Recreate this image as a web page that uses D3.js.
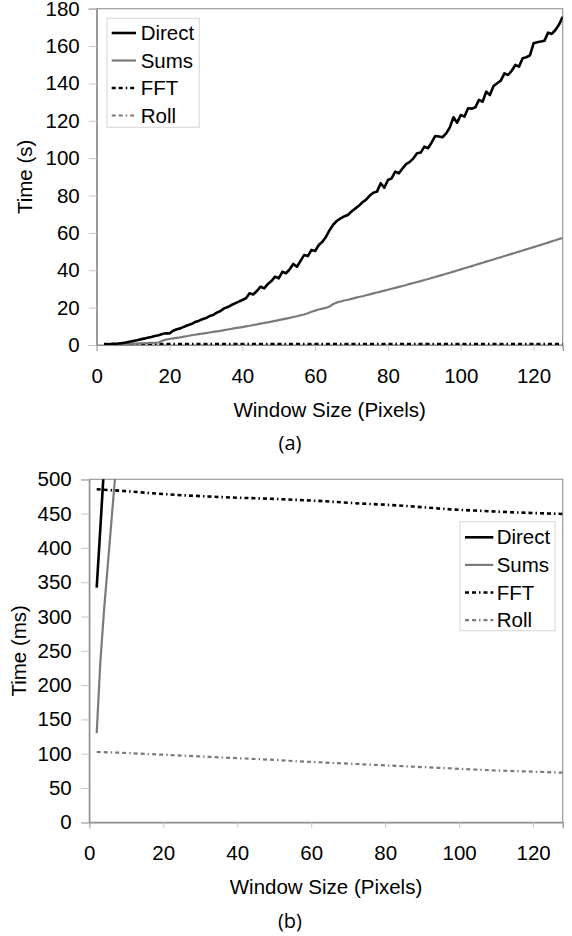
<!DOCTYPE html>
<html>
<head>
<meta charset="utf-8">
<script src="https://cdn.jsdelivr.net/npm/d3@7"></script>
<style>
  body { margin: 0; background: #fff; }
  svg { display: block; font-family: "Liberation Sans", Arial, sans-serif; }
</style>
</head>
<body>
<svg id="chart" width="572" height="936"></svg>
<script>
// window sizes (pixels) for Direct and Sums
const windowSizes = d3.range(2, 129);

// Direct, seconds, one value per window size 2..128
const directTimes = [
  0.342, 0.43, 0.52, 0.65, 0.8, 1.0, 1.3, 1.7, 2.1, 2.5, 3.0, 3.4, 3.9, 4.3, 4.8, 5.2, 5.9, 6.3, 6.2,
  7.6, 8.4, 8.9, 9.8, 10.6, 11.2, 12.3, 12.9, 13.8, 14.4, 15.5, 16.1, 17.3, 18.2, 19.6, 20.3, 21.4,
  22.3, 23.2, 24.1, 25.0, 27.7, 27.0, 28.9, 31.2, 30.3, 32.6, 34.2, 36.6, 35.7, 39.2, 38.4, 40.5,
  43.4, 41.9, 45.0, 48.2, 47.6, 50.9, 50.3, 53.5, 55.3, 58.0, 61.6, 64.5, 66.5, 67.8, 68.9, 69.6,
  71.5, 73.0, 74.5, 76.4, 77.8, 80.0, 81.5, 82.1, 86.6, 84.2, 88.3, 89.2, 92.8, 91.9, 94.5, 96.8,
  98.0, 99.9, 102.6, 103.0, 106.2, 105.3, 108.4, 111.9, 111.6, 111.2, 113.3, 116.5, 121.9, 119.0,
  123.1, 122.2, 126.7, 126.5, 127.2, 131.2, 130.2, 135.6, 133.8, 138.6, 140.1, 141.5, 145.4, 144.5,
  146.8, 149.9, 149.0, 153.5, 154.0, 155.0, 161.5, 162.0, 162.4, 162.9, 167.2, 166.5, 168.6, 171.5,
  175.7
];

// Sums, seconds, one value per window size 2..128
const sumsTimes = [
  0.13, 0.235, 0.31, 0.375, 0.44, 0.505, 0.57, 0.64, 0.71, 0.78, 0.86, 0.94, 1.02, 1.11, 1.2, 1.35,
  2.3, 2.9, 3.2, 3.5, 3.8, 4.1, 4.5, 4.8, 5.2, 5.5, 5.8, 6.1, 6.4, 6.7, 7.0, 7.3, 7.6, 8.0, 8.3, 8.6,
  9.0, 9.3, 9.6, 10.0, 10.3, 10.7, 11.0, 11.4, 11.8, 12.1, 12.5, 12.9, 13.3, 13.7, 14.1, 14.5, 15.0,
  15.4, 15.9, 16.3, 17.0, 17.8, 18.4, 19.0, 19.5, 19.9, 20.6, 22.0, 22.8, 23.3, 23.8, 24.2, 24.7,
  25.2, 25.7, 26.1, 26.6, 27.1, 27.6, 28.1, 28.6, 29.1, 29.6, 30.1, 30.6, 31.1, 31.6, 32.1, 32.7,
  33.2, 33.7, 34.2, 34.8, 35.3, 35.9, 36.4, 37.0, 37.5, 38.1, 38.7, 39.3, 39.9, 40.5, 41.1, 41.6,
  42.2, 42.8, 43.4, 44.0, 44.6, 45.2, 45.8, 46.4, 47.0, 47.6, 48.2, 48.8, 49.4, 50.0, 50.6, 51.2,
  51.8, 52.4, 53.0, 53.6, 54.2, 54.8, 55.5, 56.1, 56.7, 57.3
];

// FFT and Roll, milliseconds
const fastSizes = [2, 8, 14, 20, 26, 32, 38, 44, 50, 56, 62, 68, 74, 80, 86, 92, 98, 104, 110, 116, 122, 128];
const fftTimes = [485.5, 483.5, 481, 478.5, 476.5, 475, 473.5, 472.5, 471.5, 470, 468.5, 466.5, 464.5,
  463, 461, 458.5, 456, 454.5, 453, 451.5, 450.5, 449.5];
const rollTimes = [102.5, 101.5, 100, 98.5, 97, 95.5, 94, 92.5, 91, 89, 87.5, 86, 84.5, 83, 81.5, 80,
  78.5, 77, 75.5, 74.5, 73.5, 72.3];

const seriesNames = ['Direct', 'Sums', 'FFT', 'Roll'];
const xTicks = [0, 20, 40, 60, 80, 100, 120];
const topYTicks = [0, 20, 40, 60, 80, 100, 120, 140, 160, 180];
const bottomYTicks = [0, 50, 100, 150, 200, 250, 300, 350, 400, 450, 500];

const styles = {
  Direct: { stroke: '#000', width: 2.6, dash: null },
  Sums: { stroke: '#7a7a7a', width: 2.2, dash: null },
  FFT: { stroke: '#000', width: 2.6, dash: '4,3,4,3,1.5,3' },
  Roll: { stroke: '#7a7a7a', width: 2.2, dash: '4,3,4,3,1.5,3' }
};

const svg = d3.select('#chart');
const fontSize = 20.5;

function drawPanel(p) {
  const g = svg.append('g');
  const x = d3.scaleLinear().domain([0, 128]).range([p.left, p.right]);
  const y = d3.scaleLinear().domain([0, p.yMax]).range([p.bottom, p.top]);

  const clipId = `clip-${p.id}`;
  g.append('clipPath').attr('id', clipId)
    .append('rect')
    .attr('x', p.left).attr('y', p.top)
    .attr('width', p.right - p.left).attr('height', p.bottom - p.top);

  // frame
  g.append('rect')
    .attr('x', p.left).attr('y', p.top)
    .attr('width', p.right - p.left).attr('height', p.bottom - p.top)
    .attr('fill', 'none').attr('stroke', '#9a9a9a').attr('stroke-width', 1.2);

  const xAxis = g.append('g')
    .attr('transform', `translate(0,${p.bottom})`)
    .call(d3.axisBottom(x).tickValues(xTicks).tickSize(6).tickPadding(17));
  const yAxis = g.append('g')
    .attr('transform', `translate(${p.left},0)`)
    .call(d3.axisLeft(y).tickValues(p.yTicks).tickSize(8).tickPadding(p.yPad));

  [xAxis, yAxis].forEach(a => {
    a.select('.domain').attr('stroke', '#8a8a8a').attr('stroke-width', 1.2);
    a.selectAll('.tick line').attr('stroke', '#c8c8c8');
    a.selectAll('.tick text')
      .attr('fill', '#000')
      .style('font-family', '"Liberation Sans", Arial, sans-serif')
      .style('font-size', `${fontSize}px`);
  });

  const line = d3.line().x(d => x(d[0])).y(d => y(d[1]));
  const series = [
    { name: 'Roll', pts: fastSizes.map((s, i) => [s, rollTimes[i] * p.msScale / 1000]) },
    { name: 'FFT', pts: fastSizes.map((s, i) => [s, fftTimes[i] * p.msScale / 1000]) },
    { name: 'Sums', pts: windowSizes.map((s, i) => [s, sumsTimes[i] * p.msScale]).filter(d => d[0] <= p.maxSize) },
    { name: 'Direct', pts: windowSizes.map((s, i) => [s, directTimes[i] * p.msScale]).filter(d => d[0] <= p.maxSize) }
  ];

  g.append('g').attr('clip-path', `url(#${clipId})`)
    .selectAll('path')
    .data(series)
    .join('path')
    .attr('d', d => line(d.pts))
    .attr('fill', 'none')
    .attr('stroke', d => styles[d.name].stroke)
    .attr('stroke-width', d => styles[d.name].width)
    .attr('stroke-dasharray', d => styles[d.name].dash)
    .attr('stroke-linejoin', 'round');

  // axis titles
  g.append('text')
    .attr('x', (p.left + p.right) / 2).attr('y', p.xTitleY)
    .attr('dy', '0.35em').attr('text-anchor', 'middle')
    .style('font-size', `${fontSize}px`)
    .text('Window Size (Pixels)');
  g.append('text')
    .attr('transform', `translate(${p.yTitleX},${(p.top + p.bottom) / 2}) rotate(-90)`)
    .attr('dy', '0.35em').attr('text-anchor', 'middle')
    .style('font-size', `${fontSize}px`)
    .text(p.yTitle);
  g.append('text')
    .attr('x', 290).attr('y', p.captionY)
    .attr('dy', '0.35em').attr('text-anchor', 'middle')
    .style('font-family', '"Open Sans", "Noto Sans", sans-serif')
    .style('font-size', '20px')
    .text(p.caption);

  // legend
  const L = p.legend;
  const lg = g.append('g');
  lg.append('rect')
    .attr('x', L.x).attr('y', L.y).attr('width', L.w).attr('height', L.h)
    .attr('fill', '#fff').attr('stroke', '#dcdcdc').attr('stroke-width', 1.2);
  const row = lg.selectAll('g.row')
    .data(seriesNames)
    .join('g')
    .attr('class', 'row')
    .attr('transform', (d, i) => `translate(0,${L.rowY + i * L.step})`);
  row.append('line')
    .attr('x1', L.sx).attr('x2', L.sx + L.sw)
    .attr('stroke', d => styles[d].stroke)
    .attr('stroke-width', d => styles[d].width)
    .attr('stroke-dasharray', d => styles[d].dash);
  row.append('text')
    .attr('x', L.tx).attr('dy', '0.35em')
    .style('font-size', `${fontSize}px`)
    .text(d => d);
}

drawPanel({
  id: 'a', left: 96.7, right: 562.7, top: 8.7, bottom: 345,
  yMax: 180, yTicks: topYTicks, yPad: 9, msScale: 1, maxSize: 128,
  yTitle: 'Time (s)', yTitleX: 25, xTitleY: 410, captionY: 443, caption: '(a)',
  legend: { x: 107, y: 18.3, w: 92.3, h: 109, rowY: 33, step: 27.5, sx: 111.7, sw: 24.3, tx: 140.7 }
});

drawPanel({
  id: 'b', left: 89.3, right: 562.7, top: 479.3, bottom: 822.3,
  yMax: 500, yTicks: bottomYTicks, yPad: 9.6, msScale: 1000, maxSize: 8,
  yTitle: 'Time (ms)', yTitleX: 18.5, xTitleY: 887, captionY: 921, caption: '(b)',
  legend: { x: 460, y: 521.7, w: 95, h: 109, rowY: 537.3, step: 27.6, sx: 465, sw: 28.3, tx: 496.7 }
});
</script>
</body>
</html>
